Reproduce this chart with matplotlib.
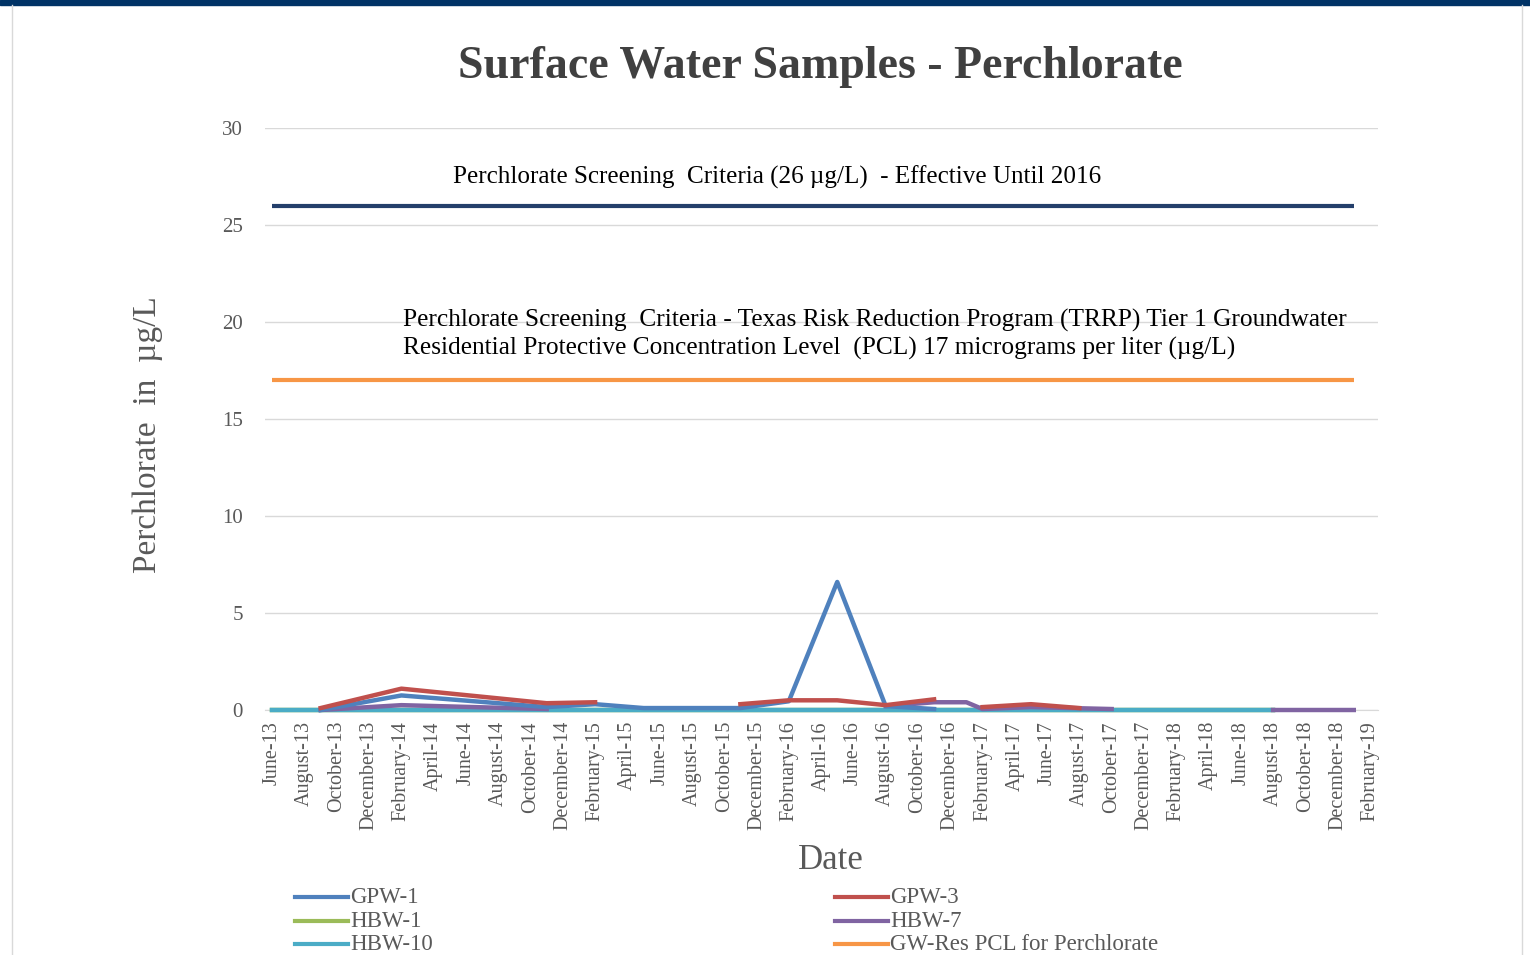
import numpy as np
import matplotlib
matplotlib.use("Agg")
import matplotlib.pyplot as plt
from matplotlib.lines import Line2D
from matplotlib.patches import Rectangle

plt.rcParams['font.family'] = ['Liberation Serif', 'DejaVu Serif']

# tick labels, one every two months from June 2013 (month index 0)
tick_labels = []
for year in range(13, 20):
    for month in ["February", "April", "June", "August", "October", "December"]:
        tick_labels.append("%s-%d" % (month, year))
tick_labels = tick_labels[2:2 + 35]
tick_months = list(range(0, 69, 2))

nan = np.nan

# months counted from June 2013, values in ug/L (nan = no sample)
gpw1_months = [3, 8, 17, 20, 23, 29, 32, 35, 38, 41]
gpw1_values = [0.0, 0.75, 0.15, 0.3, 0.1, 0.1, 0.45, 6.6, 0.2, 0.05]

gpw3_months = [3, 8, 17, 20, 24, 29, 32, 35, 38, 41, 42, 44, 47, 50]
gpw3_values = [0.1, 1.1, 0.35, 0.4, nan, 0.3, 0.5, 0.5, 0.25, 0.55, nan, 0.15, 0.3, 0.1]

hbw1_months = [0, 3, 8, 17, 20, 29, 32, 35, 38, 41, 45, 50, 62]
hbw1_values = [0.0] * 13

hbw7_months = [3, 8, 17, 25, 38, 41, 43, 44, 47, 52, 57, 62, 67]
hbw7_values = [0.0, 0.25, 0.05, nan, 0.2, 0.4, 0.4, 0.05, 0.15, 0.05, nan, 0.0, 0.0]

hbw10_months = [0, 3, 8, 17, 20, 29, 32, 35, 38, 41, 45, 50, 62]
hbw10_values = [0.0] * 13

crit_months = [0, 67]
crit26_values = [26, 26]
crit17_values = [17, 17]

W, H = 1530, 955
fig = plt.figure(figsize=(W / 100, H / 100), dpi=100)

# slide frame
fig.patches.append(Rectangle((0, 1 - 5 / H), 1, 5 / H, transform=fig.transFigure,
                             color="#003366", zorder=0))
for xf in (12, 1522):
    fig.lines.append(Line2D([xf / W, xf / W], [0, 1 - 5 / H], transform=fig.transFigure,
                            color="#d9d9d9", lw=1))

ax = fig.add_axes([265 / W, 1 - 710 / H, (1378 - 265) / W, (710 - 128) / H])

lw = 3.2
colors = {"GPW-1": "#4f81bd", "GPW-3": "#c0504d", "HBW-1": "#9bbb59",
          "HBW-7": "#8064a2", "HBW-10": "#4bacc6", "GW-Res PCL for Perchlorate": "#f79646"}
line_kw = dict(lw=lw, zorder=3, clip_on=False)
ax.plot(crit_months, crit26_values, color="#243f6b", lw=3, solid_capstyle="butt", zorder=3)
ax.plot(crit_months, crit17_values, color=colors["GW-Res PCL for Perchlorate"], lw=3,
        solid_capstyle="butt", zorder=3)
ax.plot(hbw1_months, hbw1_values, color=colors["HBW-1"], **line_kw)
ax.plot(hbw10_months, hbw10_values, color=colors["HBW-10"], **line_kw)
ax.plot(hbw7_months, hbw7_values, color=colors["HBW-7"], **line_kw)
ax.plot(gpw1_months, gpw1_values, color=colors["GPW-1"], **line_kw)
ax.plot(gpw3_months, gpw3_values, color=colors["GPW-3"], **line_kw)

ax.set_xlim(-0.45, 68.5)
ax.set_ylim(0, 30)
ax.set_yticks(range(0, 31, 5))
ax.set_xticks(tick_months)
ax.set_xticklabels(tick_labels, rotation=90, fontsize=14.5, color="#595959")
ax.tick_params(axis="y", labelsize=15, labelcolor="#595959", length=0, pad=16)
ax.tick_params(axis="x", length=0, pad=8)
ax.grid(axis="y", color="#d9d9d9", lw=1)
ax.set_axisbelow(True)
for side in ["top", "right", "left"]:
    ax.spines[side].set_visible(False)
ax.spines["bottom"].set_color("#d9d9d9")
ax.spines["bottom"].set_zorder(1)

ax.set_ylabel("Perchlorate  in  µg/L", fontsize=24, color="#595959")
ax.yaxis.set_label_coords((148 - 265) / 1113, (710 - 435) / 582)
ax.set_xlabel("Date", fontsize=25, color="#595959")
ax.xaxis.set_label_coords((831 - 265) / 1113, (710 - 860) / 582)
ax.xaxis.label.set_va("center")
ax.yaxis.label.set_va("center")

fig.text(820 / W, 1 - 67 / H, "Surface Water Samples - Perchlorate",
         fontsize=33, fontweight="bold", color="#404040", ha="center", va="center")

ax.text(11.2, 27.47, "Perchlorate Screening  Criteria (26 µg/L)  - Effective Until 2016",
        fontsize=18.1, color="black", va="center")
ax.text(8.1, 19.36, "Perchlorate Screening  Criteria - Texas Risk Reduction Program (TRRP) Tier 1 Groundwater\n"
        "Residential Protective Concentration Level  (PCL) 17 micrograms per liter (µg/L)",
        fontsize=18.3, color="black", va="center", linespacing=1.3)

# legend, two columns under the chart
legend_cols = [(295, ["GPW-1", "HBW-1", "HBW-10"]),
               (835, ["GPW-3", "HBW-7", "GW-Res PCL for Perchlorate"])]
row_y = [897, 921, 944]
for x0, names in legend_cols:
    for name, yy in zip(names, row_y):
        fig.lines.append(Line2D([x0 / W, (x0 + 53) / W], [1 - yy / H, 1 - yy / H],
                                transform=fig.transFigure, color=colors[name], lw=3))
        fig.text((x0 + 55) / W, 1 - yy / H, name, fontsize=16.5, color="#595959",
                 va="center", ha="left")

fig.savefig("out.png", dpi=100)
